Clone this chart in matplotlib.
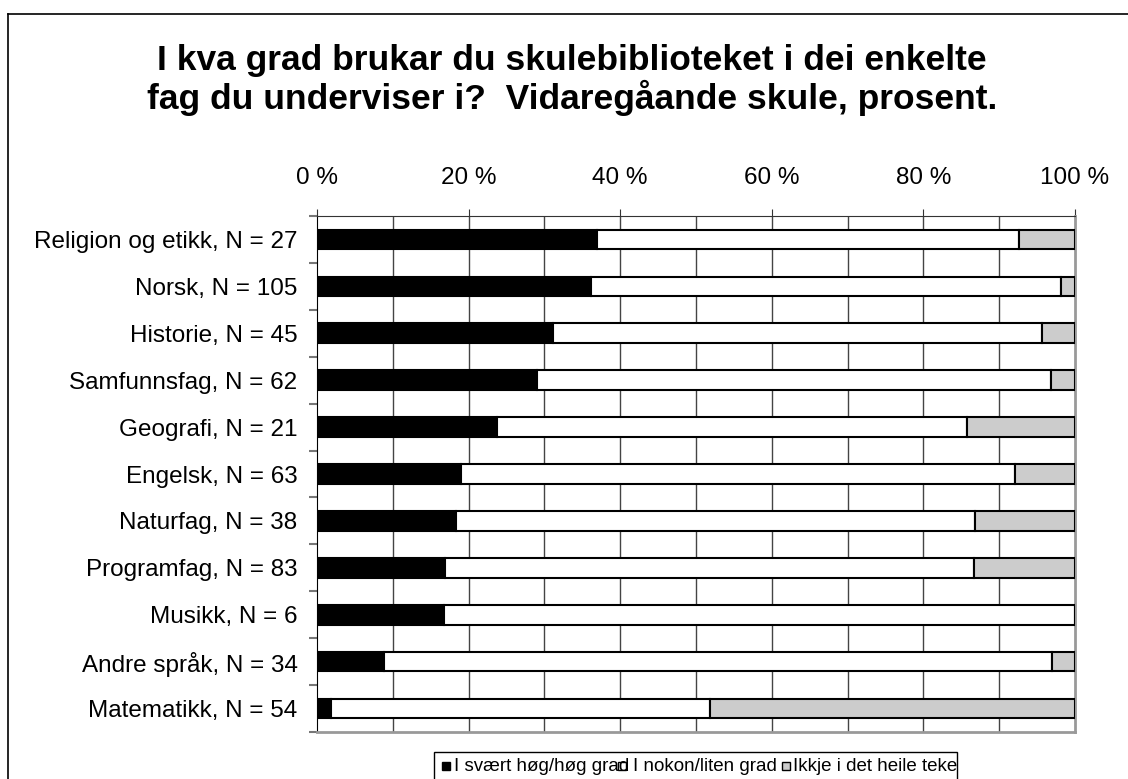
import matplotlib
matplotlib.use("Agg")
import matplotlib.pyplot as plt
import numpy as np
from matplotlib.patches import Rectangle
from matplotlib.lines import Line2D

plt.rcParams['font.family'] = ['Liberation Sans', 'DejaVu Sans']

# fag og prosentar (lest av figuren)
fag = ["Religion og etikk, N = 27", "Norsk, N = 105", "Historie, N = 45",
       "Samfunnsfag, N = 62", "Geografi, N = 21", "Engelsk, N = 63",
       "Naturfag, N = 38", "Programfag, N = 83", "Musikk, N = 6",
       "Andre språk, N = 34", "Matematikk, N = 54"]
hog = [37.0, 36.2, 31.1, 29.0, 23.8, 19.0, 18.4, 16.9, 16.7, 8.8, 1.9]
noko = [55.6, 61.9, 64.5, 67.8, 61.9, 73.1, 68.4, 69.8, 83.3, 88.2, 50.0]
ikkje = [7.4, 1.9, 4.4, 3.2, 14.3, 7.9, 13.2, 13.3, 0.0, 3.0, 48.1]
serie_namn = ["I svært høg/høg grad", "I nokon/liten grad", "Ikkje i det heile teke"]
xticks = [0, 20, 40, 60, 80, 100]

farger = ['black', 'white', '#cccccc']

W, H = 1128, 779
fig = plt.figure(figsize=(W / 100, H / 100), dpi=100)

# ramme rundt heile figuren (venstre og topp synleg)
fig.add_artist(Line2D([8 / W, 8 / W], [0, 1 - 14 / H], color='black', lw=1.2))
fig.add_artist(Line2D([8 / W, 1], [1 - 14 / H, 1 - 14 / H], color='black', lw=1.2))

ax = fig.add_axes([317 / W, 1 - 732 / H, (1075 - 317) / W, (732 - 216) / H])

y = np.arange(len(fag))
venstre = np.zeros(len(fag))
for verdi, farge in zip([hog, noko, ikkje], farger):
    ax.barh(y, verdi, left=venstre, height=0.42, color=farge,
            edgecolor='black', linewidth=1.5, zorder=3)
    venstre += np.array(verdi)

ax.set_xlim(0, 100)
ax.set_ylim(len(fag) - 0.5, -0.5)

ax.xaxis.tick_top()
ax.set_xticks(xticks)
ax.set_xticklabels([f"{v} %" for v in xticks])
for v in range(10, 100, 10):
    ax.axvline(v, color='#444444', lw=1, zorder=1)

ax.set_yticks(y)
ax.set_yticklabels(fag)
ax.set_yticks(np.arange(-0.5, len(fag)), minor=True)
ax.tick_params(axis='y', which='major', length=0, pad=14, labelsize=17.5)
ax.tick_params(axis='y', which='minor', length=6, color='#777777', width=1.5)
ax.tick_params(axis='x', which='major', length=5, pad=14.5, labelsize=17.5,
               color='#333333')

ax.spines['left'].set_color('black')
ax.spines['top'].set_color('#333333')
ax.spines['right'].set_color('#999999')
ax.spines['bottom'].set_color('#999999')
for s in ['right', 'bottom']:
    ax.spines[s].set_linewidth(2)

fig.text(0.507, 1 - 44 / H,
         "I kva grad brukar du skulebiblioteket i dei enkelte\n"
         "fag du underviser i?  Vidaregåande skule, prosent.",
         ha='center', va='top', fontsize=25.5, fontweight='bold',
         linespacing=1.1)

# forklaring, laga for hand
boks = Rectangle((434 / W, -0.05), (957 - 434) / W, 0.05 + 1 - 752 / H,
                 transform=fig.transFigure, facecolor='white',
                 edgecolor='black', lw=1)
fig.add_artist(boks)
merke_x = [442, 618, 782]
tekst_x = [454, 633, 793]
for tx, namn in zip(tekst_x, serie_namn):
    t = fig.text(tx / W, 1 - 771 / H, namn, fontsize=13.5, va='baseline')
    t.set_clip_path(boks)
for mx, farge in zip(merke_x, farger):
    fig.add_artist(Rectangle((mx / W, 1 - 770 / H), 8 / W, 8 / H,
                             transform=fig.transFigure, facecolor=farge,
                             edgecolor='black', lw=1))

fig.savefig("out.png", dpi=100)
